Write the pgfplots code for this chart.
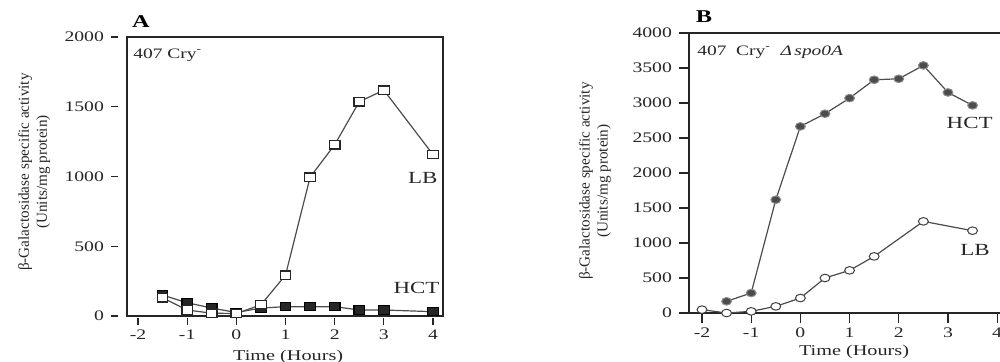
\documentclass[border=0pt]{standalone}
\usepackage{fontspec}
\setmainfont{Liberation Serif}[FakeStretch=1.35]
\newfontfamily\rotfont{Liberation Serif}
\usepackage{pgfplots}
\pgfplotsset{compat=1.18}

\pgfplotsset{
  panel/.style={
    scale only axis, clip=false,
    axis line style={black!85, line width=0.8pt},
    tick align=outside, xtick pos=bottom, ytick pos=left,
    tick style={black!85, line width=0.6pt},
    ticklabel style={font=\fontsize{7.3}{8}\selectfont, text=black!85},
    /pgf/number format/assume math mode=true,
    xtick={-2,-1,0,1,2,3,4}, xticklabels={-2,-1,0,1,2,3,4},
    every axis y label/.style={rotate=90, anchor=center, align=center,
      font=\rotfont\fontsize{7.6}{9}\selectfont, text=black!85},
    every axis x label/.style={anchor=center, font=\fontsize{7.5}{9}\selectfont, text=black!85},
  },
  ser/.style={black!70, line width=0.6pt},
}

\begin{document}
\begin{tikzpicture}
\path[use as bounding box, clip] (0,0) rectangle (500pt,180.5pt);

% ---------------- Panel A ----------------
\begin{axis}[panel,
  at={(63.5pt,22.5pt)}, anchor=south west,
  width=158pt, height=139.5pt,
  xmin=-2.224, xmax=4.203, ymin=0, ymax=2000,
  ytick={0,500,1000,1500,2000}, yticklabels={0,500,1000,1500,2000},
  ytick style={xshift=-4.5pt},
  y tick label style={xshift=-4.5pt},
  xtick style={yshift=-1pt},
  major tick length=3.5pt,
  ylabel={β-Galactosidase specific activity\\(Units/mg protein)},
  every axis y label/.append style={at={(rel axis cs:-0.294,0.516)}},
  xlabel={Time (Hours)},
  every axis x label/.append style={at={(rel axis cs:0.51,-0.147)}},
]
\addplot[ser, mark=square*, mark size=2.1pt, mark options={fill=black!85, draw=black, xscale=1.25}]
  coordinates {(-1.5,150) (-1,95) (-0.5,57) (0,25) (0.5,57) (1,67) (1.5,67) (2,67) (2.5,43) (3,43) (4,31)};
\addplot[ser, mark=square*, mark size=2.1pt, mark options={fill=white, draw=black!85, xscale=1.25}]
  coordinates {(-1.5,130) (-1,43) (-0.5,20) (0,18) (0.5,80) (1,293) (1.5,995) (2,1228) (2.5,1536) (3,1619) (4,1157)};
\node[anchor=center, inner sep=0, font=\bfseries\fontsize{9}{10}\selectfont] at (rel axis cs:0.044,1.057) {A};
\node[anchor=west, inner sep=0, font=\fontsize{7.2}{8}\selectfont, text=black!85] at (rel axis cs:0.019,0.935) {407\ Cry\textsuperscript{-}};
\node[anchor=east, inner sep=0, font=\fontsize{8.5}{9}\selectfont, text=black!85] at (rel axis cs:0.984,0.495) {LB};
\node[anchor=east, inner sep=0, font=\fontsize{8.5}{9}\selectfont, text=black!85] at (rel axis cs:0.99,0.10) {HCT};
\end{axis}

% ---------------- Panel B ----------------
\begin{axis}[panel,
  at={(344.5pt,24pt)}, anchor=south west,
  width=159pt, height=140pt,
  xmin=-2.264, xmax=4.2, ymin=0, ymax=4000,
  ytick={0,500,1000,1500,2000,2500,3000,3500,4000},
  yticklabels={0,500,1000,1500,2000,2500,3000,3500,4000},
  major tick length=5pt,
  x tick label style={yshift=1pt},
  ylabel={β-Galactosidase specific activity\\(Units/mg protein)},
  every axis y label/.append style={at={(rel axis cs:-0.296,0.471)}},
  xlabel={Time (Hours)},
  every axis x label/.append style={at={(rel axis cs:0.519,-0.139)}},
]
\addplot[ser, mark=*, mark size=1.9pt, mark options={fill=black!70, draw=black!45, line width=0.5pt, xscale=1.3}]
  coordinates {(-1.5,167) (-1,286) (-0.5,1618) (0,2666) (0.5,2847) (1,3070) (1.5,3332) (2,3346) (2.5,3537) (3,3151) (3.5,2966)};
\addplot[ser, mark=*, mark size=1.9pt, mark options={fill=white, draw=black!75, line width=0.5pt, xscale=1.3}]
  coordinates {(-2,48) (-1.5,0) (-1,24) (-0.5,95) (0,214) (0.5,500) (1,609) (1.5,809) (2.5,1309) (3.5,1176)};
\node[anchor=center, inner sep=0, font=\bfseries\fontsize{9}{10}\selectfont] at (rel axis cs:0.047,1.057) {B};
\node[anchor=west, inner sep=0, font=\fontsize{7.2}{8}\selectfont, text=black!85] at (rel axis cs:0.025,0.932) {407\ \ Cry\textsuperscript{-}\ \ \textit{Δ\,spo0A}};
\node[anchor=east, inner sep=0, font=\fontsize{8.5}{9}\selectfont, text=black!85] at (rel axis cs:0.956,0.679) {HCT};
\node[anchor=east, inner sep=0, font=\fontsize{8.5}{9}\selectfont, text=black!85] at (rel axis cs:0.947,0.225) {LB};
\end{axis}
\end{tikzpicture}
\end{document}
